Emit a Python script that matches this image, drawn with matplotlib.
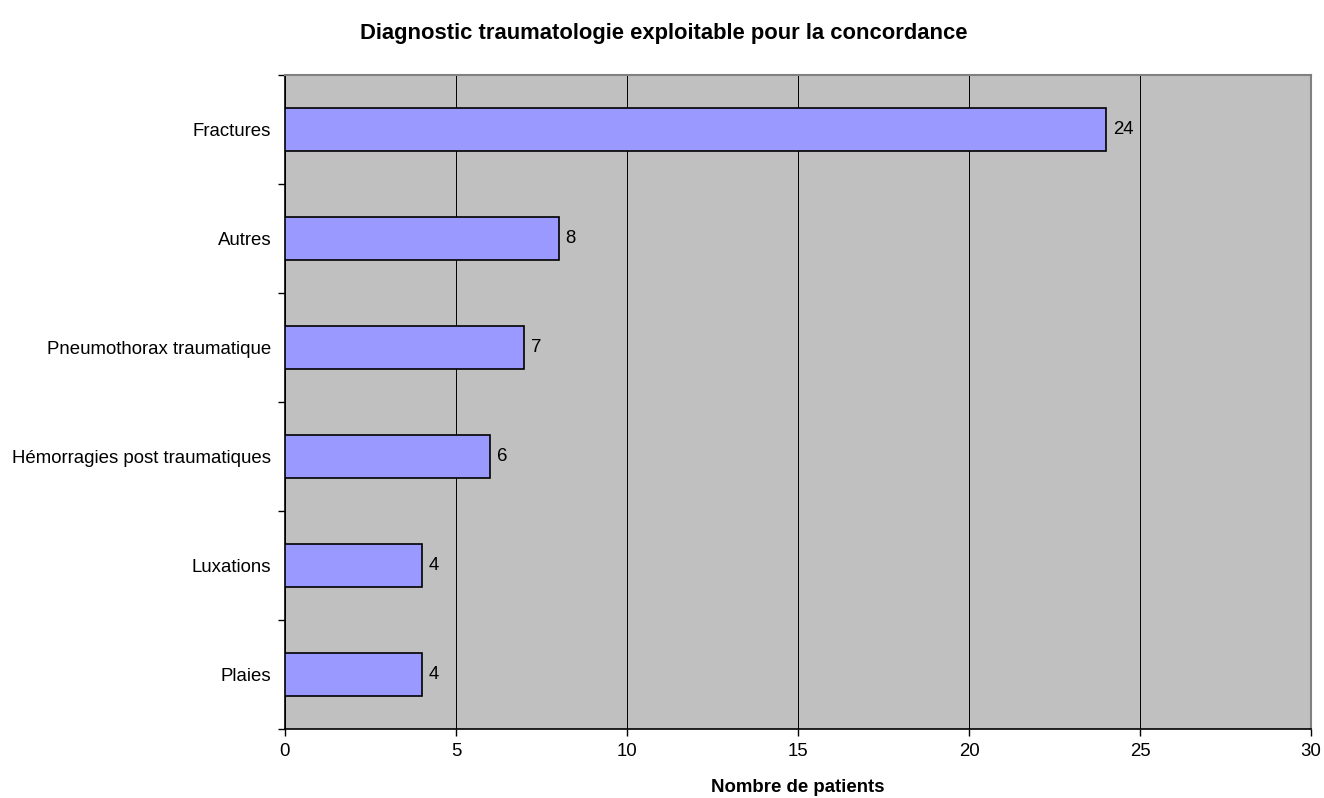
import numpy as np
import matplotlib.pyplot as plt

plt.rcParams['font.family'] = ['Liberation Sans', 'DejaVu Sans']

categories = ["Fractures", "Autres", "Pneumothorax traumatique",
              "Hémorragies post traumatiques", "Luxations", "Plaies"]
counts = [24, 8, 7, 6, 4, 4]
xticks = [0, 5, 10, 15, 20, 25, 30]

fig = plt.figure(figsize=(13.24, 7.98), dpi=100)
ax = fig.add_axes([285 / 1324, 1 - 729 / 798, (1311 - 285) / 1324, (729 - 75) / 798])
ax.set_facecolor("#c0c0c0")

fs = 13.4
y = np.arange(len(categories))[::-1]
bars = ax.barh(y, counts, height=0.4, color="#9999ff", edgecolor="black", linewidth=1.2, zorder=3)
for b, v in zip(bars, counts):
    ax.annotate(str(v), (b.get_width(), b.get_y() + b.get_height() / 2),
                xytext=(5, 0), textcoords="offset points", va="center", ha="left", fontsize=fs)

ax.set_xlim(0, 30)
ax.set_ylim(-0.5, len(categories) - 0.5)
ax.set_xticks(xticks)
ax.set_xticklabels([str(t) for t in xticks], fontsize=fs)
ax.set_yticks(y)
ax.set_yticklabels(categories, fontsize=fs)
ax.set_yticks(np.arange(len(categories) + 1) - 0.5, minor=True)
ax.tick_params(axis="y", which="major", length=0, pad=10)
ax.tick_params(axis="y", which="minor", length=5, width=1, direction="out")
ax.tick_params(axis="x", length=5, width=1, direction="out", pad=5)
ax.grid(axis="x", color="black", linewidth=0.7, zorder=1)

for side in ["top", "right"]:
    ax.spines[side].set_color("#808080")
    ax.spines[side].set_linewidth(1.5)
for side in ["left", "bottom"]:
    ax.spines[side].set_color("black")
    ax.spines[side].set_linewidth(1.2)

ax.set_xlabel("Nombre de patients", fontsize=fs, fontweight="bold", labelpad=14)
fig.text(664 / 1324, 1 - 33 / 798, "Diagnostic traumatologie exploitable pour la concordance",
         ha="center", va="center", fontsize=15.8, fontweight="bold")

fig.savefig("out.png", dpi=100)
